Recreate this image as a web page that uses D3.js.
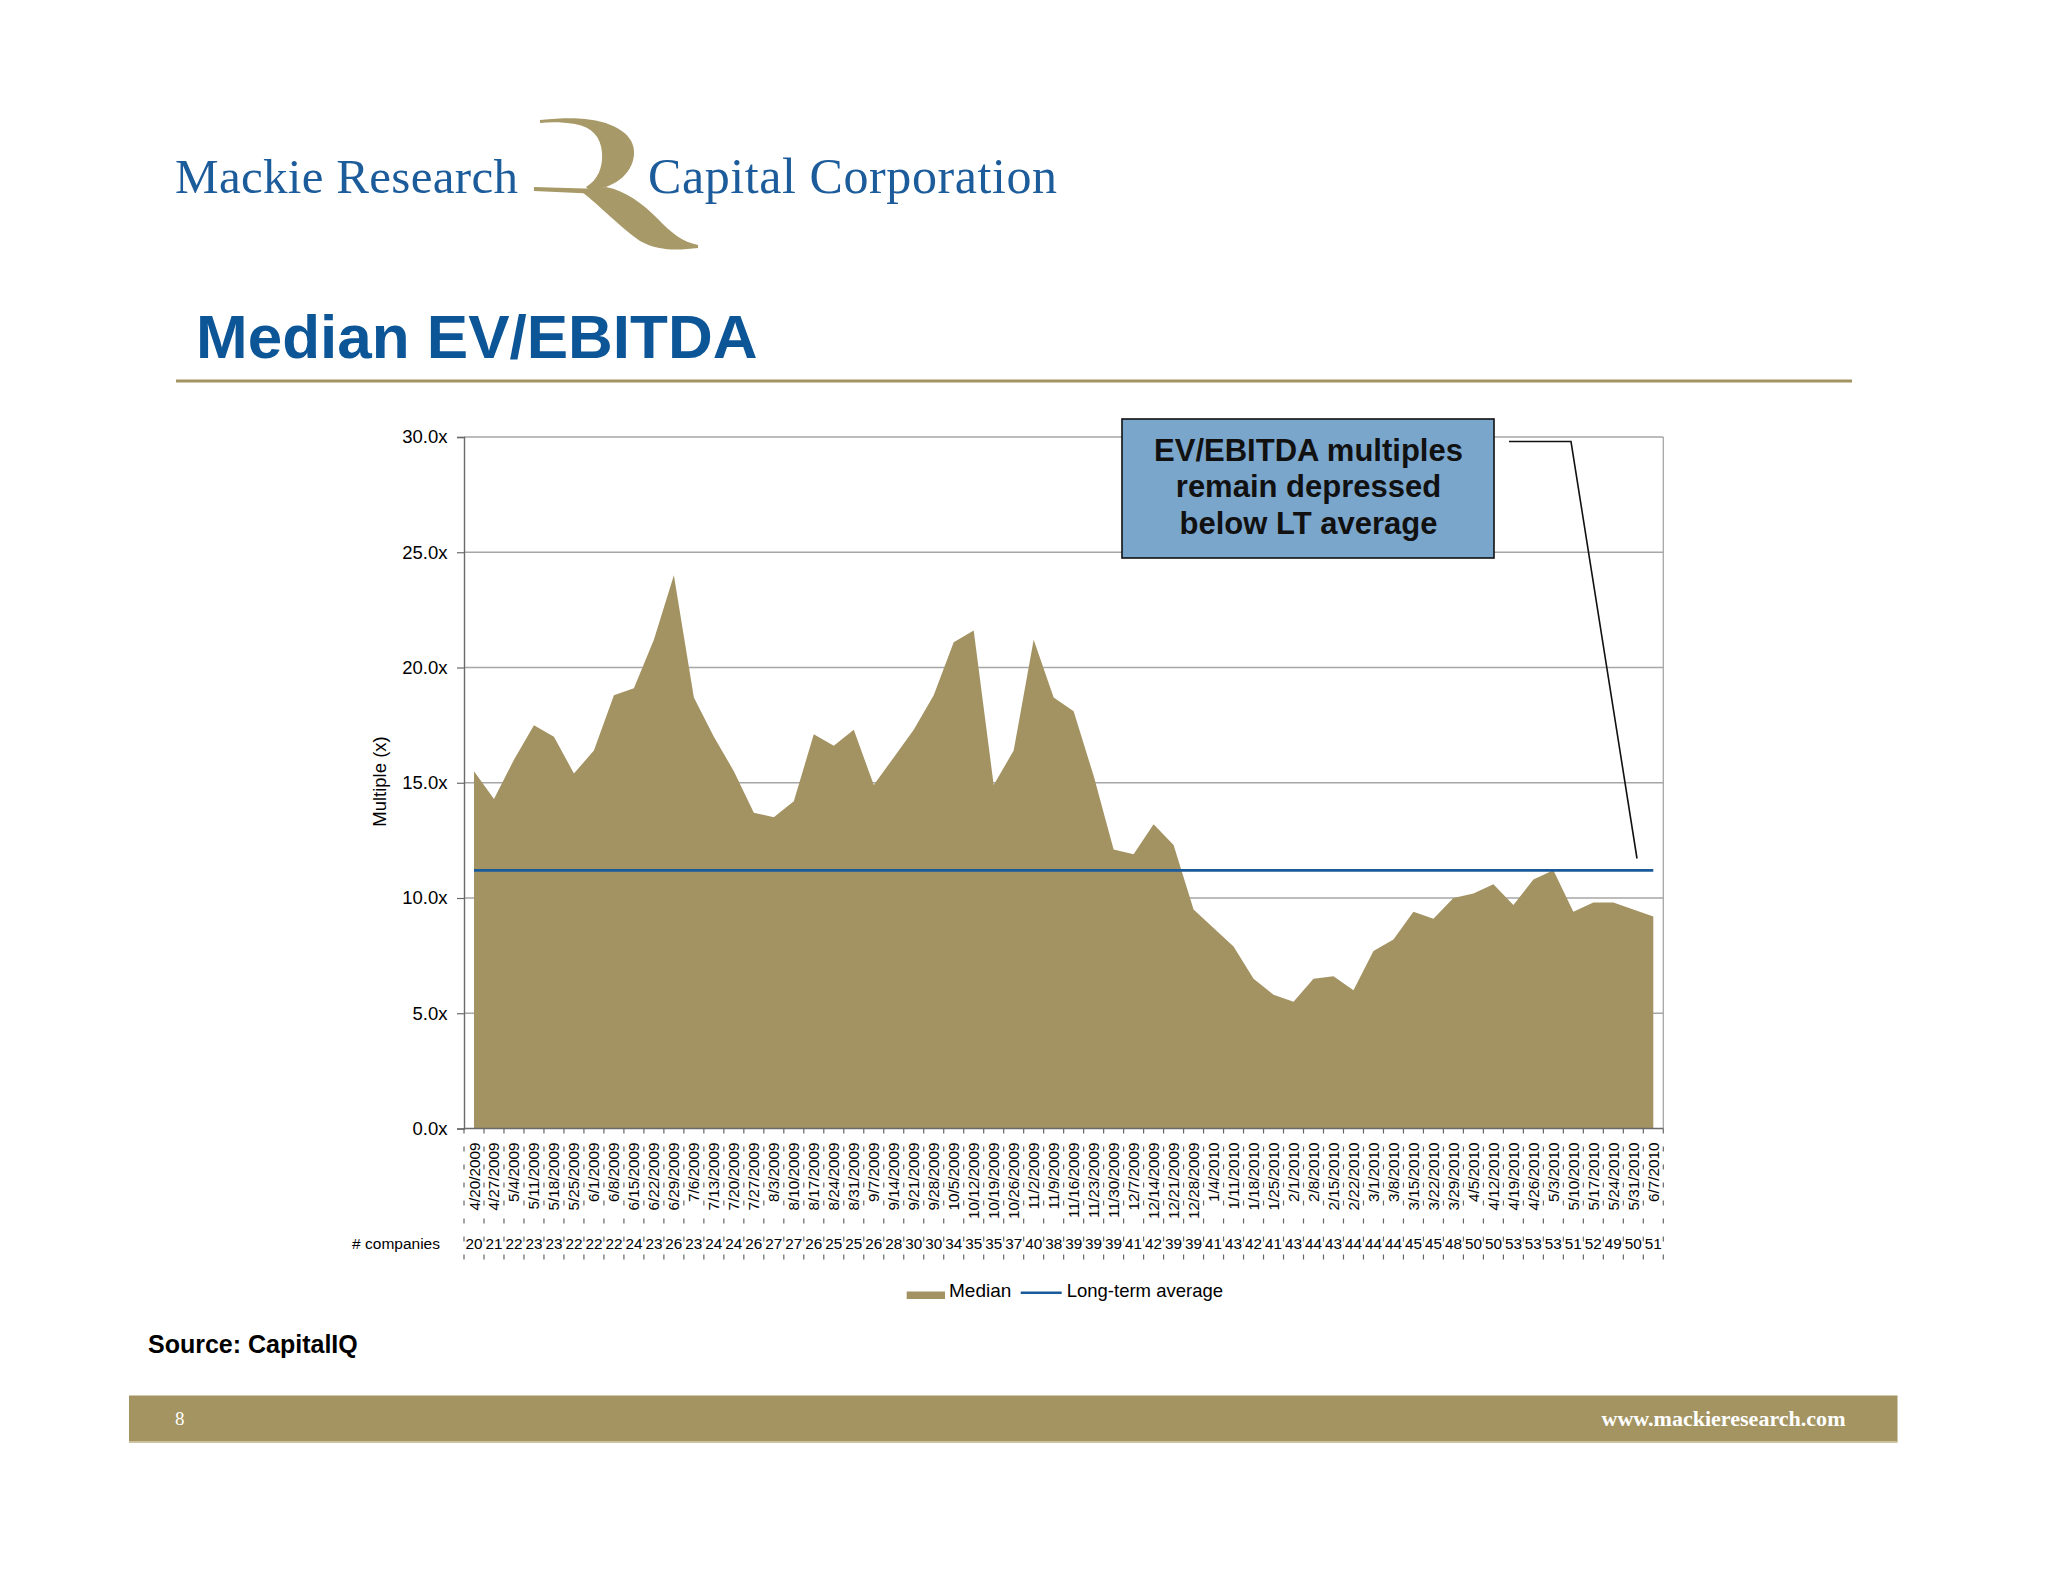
<!DOCTYPE html>
<html><head><meta charset="utf-8">
<script src="https://cdn.jsdelivr.net/npm/d3@7"></script>
<style>body{margin:0;background:#fff;} svg{display:block;}</style>
</head><body>
<svg id="c" width="2048" height="1582"></svg>
<script>
const dates = ["4/20/2009","4/27/2009","5/4/2009","5/11/2009","5/18/2009","5/25/2009","6/1/2009","6/8/2009","6/15/2009","6/22/2009",
"6/29/2009","7/6/2009","7/13/2009","7/20/2009","7/27/2009","8/3/2009","8/10/2009","8/17/2009","8/24/2009","8/31/2009",
"9/7/2009","9/14/2009","9/21/2009","9/28/2009","10/5/2009","10/12/2009","10/19/2009","10/26/2009","11/2/2009","11/9/2009",
"11/16/2009","11/23/2009","11/30/2009","12/7/2009","12/14/2009","12/21/2009","12/28/2009","1/4/2010","1/11/2010","1/18/2010",
"1/25/2010","2/1/2010","2/8/2010","2/15/2010","2/22/2010","3/1/2010","3/8/2010","3/15/2010","3/22/2010","3/29/2010",
"4/5/2010","4/12/2010","4/19/2010","4/26/2010","5/3/2010","5/10/2010","5/17/2010","5/24/2010","5/31/2010","6/7/2010"];
const medianValues = [15.5,14.3,16.0,17.5,17.0,15.4,16.4,18.8,19.1,21.2,
24.0,18.7,17.0,15.5,13.7,13.5,14.2,17.1,16.6,17.3,
14.9,16.1,17.3,18.8,21.1,21.6,14.9,16.4,21.2,18.7,
18.1,15.3,12.1,11.9,13.2,12.3,9.5,8.7,7.9,6.5,
5.8,5.5,6.5,6.6,6.0,7.7,8.2,9.4,9.1,10.0,
10.2,10.6,9.7,10.8,11.2,9.4,9.8,9.8,9.5,9.2];
const companies = [20,21,22,23,23,22,22,22,24,23,
26,23,24,24,26,27,27,26,25,25,
26,28,30,30,34,35,35,37,40,38,
39,39,39,41,42,39,39,41,43,42,
41,43,44,43,44,44,44,45,45,48,
50,50,53,53,53,51,52,49,50,51];
const longTermAverage = 11.2;
const yTicks = [0,5,10,15,20,25,30];
const seriesNames = ["Median","Long-term average"];

const GOLD = "#a39262";
const LTBLUE = "#1a5a9a";
const SANS = "'Liberation Sans', Arial, Helvetica, sans-serif";
const SERIF = "'Liberation Serif', 'Times New Roman', serif";

const svg = d3.select('#c');
svg.append('rect').attr('width',2048).attr('height',1582).attr('fill','#fff');

// ---------- Logo ----------
const logo = svg.append('g');
logo.append('text').attr('x',175).attr('y',192.5).attr('font-family',SERIF).attr('font-size',49)
  .attr('fill','#1d5c9b').attr('textLength',343).attr('lengthAdjust','spacing').text('Mackie Research');
logo.append('text').attr('x',648).attr('y',192.5).attr('font-family',SERIF).attr('font-size',50)
  .attr('fill','#1d5c9b').attr('textLength',409).attr('lengthAdjust','spacing').text('Capital Corporation');
const lg = logo.append('g').attr('fill','#a89a68');
lg.append('path').attr('d','M540,120 C560,118 575,118 585,119 C615,122 636,135 634,155 C632,176 612,188 590,191 L586,187 C598,180 603,167 602,153 C601,137 592,127 575,124 C562,122 550,122 540,123 Z');
lg.append('path').attr('d','M534,187 C555,188 580,188 602,189 L600,194 C578,193 556,192 534,191 Z');
lg.append('path').attr('d','M582,192 C600,206 620,227 640,241 C660,252 680,250 698,248 L698,245 C683,242 671,233 658,219 C642,203 626,191 606,187 Z');

// ---------- Title ----------
svg.append('text').attr('x',196).attr('y',358).attr('font-family',SANS).attr('font-weight','bold')
  .attr('font-size',62).attr('fill','#0c5597').text('Median EV/EBITDA');
svg.append('rect').attr('x',176).attr('y',379.5).attr('width',1676).attr('height',3).attr('fill','#a39461');

// ---------- Chart ----------
const m = {left:464, right:1663.3, top:437, bottom:1128.5};
const x = d3.scaleBand().domain(dates).range([m.left, m.right]);
const y = d3.scaleLinear().domain([0,30]).range([m.bottom, m.top]);
const cx = d => x(d) + x.bandwidth()/2;

const chart = svg.append('g');
chart.append('g').selectAll('line').data(yTicks.filter(t=>t>0)).join('line')
  .attr('x1',m.left).attr('x2',m.right).attr('y1',d=>y(d)).attr('y2',d=>y(d))
  .attr('stroke','#a6a6a6').attr('stroke-width',1.3);
chart.append('line').attr('x1',m.right).attr('x2',m.right).attr('y1',m.top).attr('y2',m.bottom)
  .attr('stroke','#a6a6a6').attr('stroke-width',1.3);

const area = d3.area().x((d,i)=>cx(dates[i])).y0(y(0)).y1(d=>y(d));
chart.append('path').datum(medianValues).attr('d',area).attr('fill',GOLD);

const ltData = dates.map(()=>longTermAverage);
const line = d3.line().x((d,i)=>cx(dates[i])).y(d=>y(d));
chart.append('path').datum(ltData).attr('d',line).attr('fill','none').attr('stroke',LTBLUE).attr('stroke-width',2.6);

const yAxis = d3.axisLeft(y).tickValues(yTicks).tickFormat(d=>d.toFixed(1)+'x').tickSize(7).tickPadding(9.5);
const ya = chart.append('g').attr('transform',`translate(${m.left},0)`).call(yAxis);
ya.select('.domain').attr('stroke','#6a6a6a').attr('stroke-width',1.4);
ya.selectAll('.tick line').attr('stroke','#6a6a6a').attr('stroke-width',1.2);
ya.selectAll('.tick text').attr('font-family',SANS).attr('font-size',18.5).attr('fill','#000');

chart.append('line').attr('x1',m.left).attr('x2',m.right).attr('y1',m.bottom).attr('y2',m.bottom)
  .attr('stroke','#6a6a6a').attr('stroke-width',1.4);
const bounds = dates.map(d=>x(d)).concat([m.right]);
chart.append('g').selectAll('line').data(bounds).join('line')
  .attr('x1',d=>d).attr('x2',d=>d).attr('y1',m.bottom).attr('y2',1262)
  .attr('stroke','#666').attr('stroke-width',1.2).attr('stroke-dasharray','5,13');
chart.append('g').selectAll('text').data(dates).join('text')
  .attr('transform',d=>`translate(${cx(d)},1142.5) rotate(-90)`)
  .attr('text-anchor','end').attr('dy','0.36em')
  .attr('font-family',SANS).attr('font-size',15.3).attr('fill','#000').text(d=>d);
chart.append('g').selectAll('text').data(companies).join('text')
  .attr('x',(d,i)=>cx(dates[i])).attr('y',1243.5).attr('dy','0.36em').attr('text-anchor','middle')
  .attr('font-family',SANS).attr('font-size',15.3).attr('fill','#000').text(d=>d);
chart.append('text').attr('x',440).attr('y',1243.5).attr('dy','0.36em').attr('text-anchor','end')
  .attr('font-family',SANS).attr('font-size',15.5).attr('fill','#000').text('# companies');

chart.append('text').attr('transform','translate(379,781.5) rotate(-90)').attr('text-anchor','middle')
  .attr('dy','0.36em').attr('font-family',SANS).attr('font-size',18.5).attr('fill','#000').text('Multiple (x)');

const leg = svg.append('g');
leg.append('rect').attr('x',906.7).attr('y',1291.5).attr('width',38.3).attr('height',7.5).attr('fill',GOLD);
leg.append('text').attr('x',949).attr('y',1297.3).attr('font-family',SANS).attr('font-size',19).attr('fill','#000').text(seriesNames[0]);
leg.append('line').attr('x1',1020.7).attr('x2',1061.7).attr('y1',1292.8).attr('y2',1292.8).attr('stroke',LTBLUE).attr('stroke-width',2.6);
leg.append('text').attr('x',1066.7).attr('y',1297.3).attr('font-family',SANS).attr('font-size',18.5).attr('fill','#000').text(seriesNames[1]);

const ann = svg.append('g');
ann.append('rect').attr('x',1122).attr('y',419).attr('width',372).attr('height',139)
  .attr('fill','#7ba6cc').attr('stroke','#111').attr('stroke-width',1.6);
['EV/EBITDA multiples','remain depressed','below LT average'].forEach((t,i)=>{
  ann.append('text').attr('x',1308.5).attr('y',460.5+i*36.8).attr('text-anchor','middle')
    .attr('font-family',SANS).attr('font-weight','bold').attr('font-size',31).attr('fill','#111').text(t);
});
ann.append('path').attr('d','M1509,441.5 L1571,441.5 L1637,858.5').attr('fill','none').attr('stroke','#111').attr('stroke-width',1.6);

svg.append('text').attr('x',148).attr('y',1353).attr('font-family',SANS).attr('font-weight','bold')
  .attr('font-size',25).attr('fill','#000').text('Source: CapitalIQ');

svg.append('rect').attr('x',129).attr('y',1395.5).attr('width',1768.5).attr('height',47).attr('fill','#a39461');
svg.append('rect').attr('x',129).attr('y',1441).attr('width',1768.5).attr('height',1.5).attr('fill','#c9bf99');
svg.append('text').attr('x',175).attr('y',1425).attr('font-family',SERIF).attr('font-size',19).attr('fill','#fff').text('8');
svg.append('text').attr('x',1845.5).attr('y',1426).attr('text-anchor','end').attr('font-family',SERIF)
  .attr('font-weight','bold').attr('font-size',20).attr('fill','#fff')
  .attr('textLength',244).attr('lengthAdjust','spacingAndGlyphs').text('www.mackieresearch.com');
</script>
</body></html>
